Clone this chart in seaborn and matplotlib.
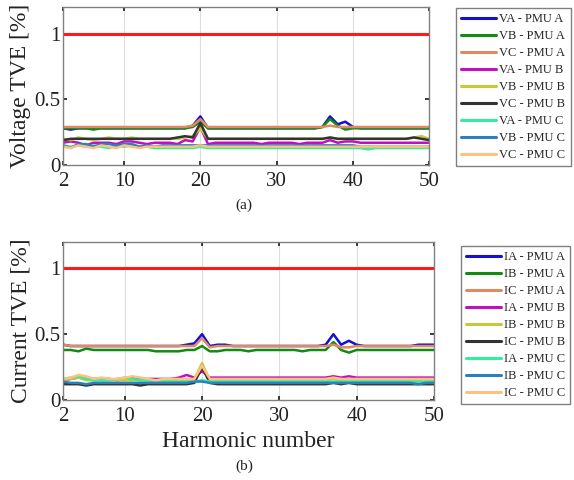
import numpy as np
import pandas as pd
import matplotlib
matplotlib.use("Agg")
import matplotlib.pyplot as plt
import seaborn as sns

harmonics = list(range(2, 51))

v_labels = ["VA - PMU A", "VB - PMU A", "VC - PMU A",
            "VA - PMU B", "VB - PMU B", "VC - PMU B",
            "VA - PMU C", "VB - PMU C", "VC - PMU C"]
i_labels = ["IA - PMU A", "IB - PMU A", "IC - PMU A",
            "IA - PMU B", "IB - PMU B", "IC - PMU B",
            "IA - PMU C", "IB - PMU C", "IC - PMU C"]

# Voltage TVE [%] for harmonics 2..50
va_a = [0.28,0.27,0.28,0.28,0.28,0.28,0.28,0.28,0.28,0.28,
        0.28,0.28,0.28,0.28,0.28,0.28,0.28,0.30,0.37,0.28,
        0.28,0.28,0.28,0.28,0.28,0.28,0.28,0.28,0.28,0.28,
        0.28,0.28,0.28,0.28,0.29,0.37,0.31,0.33,0.29,0.28,
        0.28,0.28,0.28,0.28,0.28,0.28,0.28,0.28,0.28]
vb_a = [0.28,0.28,0.28,0.28,0.27,0.28,0.28,0.28,0.28,0.28,
        0.28,0.28,0.28,0.28,0.28,0.28,0.28,0.29,0.33,0.28,
        0.28,0.28,0.28,0.28,0.28,0.28,0.28,0.28,0.28,0.28,
        0.28,0.28,0.28,0.28,0.29,0.35,0.30,0.27,0.28,0.28,
        0.28,0.28,0.28,0.28,0.28,0.28,0.28,0.28,0.28]
vc_a = [0.29,0.29,0.29,0.29,0.29,0.29,0.29,0.29,0.29,0.29,
        0.29,0.29,0.29,0.29,0.29,0.29,0.29,0.30,0.35,0.29,
        0.29,0.29,0.29,0.29,0.29,0.29,0.29,0.29,0.29,0.29,
        0.29,0.29,0.29,0.29,0.29,0.30,0.29,0.29,0.29,0.29,
        0.29,0.29,0.29,0.29,0.29,0.29,0.29,0.29,0.29]
va_b = [0.17,0.18,0.17,0.15,0.17,0.17,0.17,0.16,0.18,0.18,
        0.17,0.16,0.17,0.17,0.17,0.16,0.19,0.18,0.29,0.16,
        0.17,0.17,0.17,0.17,0.17,0.17,0.16,0.17,0.17,0.17,
        0.17,0.16,0.17,0.17,0.17,0.19,0.17,0.18,0.18,0.17,
        0.17,0.17,0.17,0.17,0.17,0.17,0.17,0.17,0.17]
vb_b = [0.20,0.19,0.21,0.20,0.19,0.20,0.21,0.20,0.20,0.21,
        0.20,0.20,0.20,0.20,0.20,0.20,0.21,0.22,0.28,0.20,
        0.20,0.20,0.20,0.20,0.20,0.20,0.20,0.20,0.20,0.20,
        0.20,0.20,0.20,0.20,0.20,0.21,0.20,0.20,0.20,0.20,
        0.20,0.20,0.20,0.20,0.20,0.20,0.21,0.22,0.20]
vc_b = [0.19,0.20,0.20,0.20,0.20,0.20,0.20,0.20,0.20,0.20,
        0.20,0.20,0.20,0.20,0.20,0.21,0.22,0.21,0.32,0.20,
        0.20,0.20,0.20,0.20,0.20,0.20,0.20,0.20,0.20,0.20,
        0.20,0.20,0.20,0.20,0.20,0.21,0.20,0.20,0.20,0.20,
        0.20,0.20,0.20,0.20,0.20,0.20,0.21,0.20,0.19]
va_c = [0.15,0.14,0.15,0.14,0.15,0.14,0.13,0.15,0.14,0.15,
        0.14,0.14,0.13,0.13,0.13,0.13,0.13,0.13,0.14,0.13,
        0.13,0.13,0.13,0.13,0.13,0.13,0.13,0.13,0.13,0.13,
        0.13,0.13,0.13,0.13,0.13,0.13,0.13,0.13,0.13,0.13,
        0.12,0.13,0.13,0.13,0.13,0.13,0.13,0.13,0.13]
vb_c = [0.15,0.13,0.16,0.16,0.14,0.16,0.16,0.15,0.16,0.16,
        0.14,0.15,0.14,0.15,0.15,0.15,0.15,0.15,0.15,0.15,
        0.15,0.15,0.15,0.15,0.15,0.15,0.15,0.15,0.15,0.15,
        0.15,0.15,0.15,0.15,0.15,0.15,0.15,0.15,0.15,0.14,
        0.14,0.14,0.14,0.14,0.14,0.14,0.14,0.14,0.14]
vc_c = [0.14,0.13,0.15,0.14,0.13,0.15,0.14,0.13,0.15,0.14,
        0.13,0.14,0.14,0.14,0.14,0.14,0.14,0.14,0.15,0.14,
        0.14,0.14,0.14,0.14,0.14,0.14,0.14,0.14,0.14,0.14,
        0.14,0.14,0.14,0.14,0.14,0.14,0.14,0.14,0.14,0.14,
        0.14,0.14,0.14,0.14,0.14,0.14,0.14,0.14,0.14]

# Current TVE [%] for harmonics 2..50
ia_a = [0.42,0.41,0.41,0.41,0.41,0.41,0.41,0.41,0.41,0.41,
        0.41,0.41,0.41,0.41,0.41,0.41,0.42,0.43,0.50,0.41,
        0.42,0.42,0.41,0.41,0.41,0.41,0.41,0.41,0.41,0.41,
        0.41,0.41,0.41,0.41,0.42,0.50,0.42,0.45,0.42,0.41,
        0.41,0.41,0.41,0.41,0.41,0.41,0.42,0.42,0.42]
ib_a = [0.38,0.38,0.37,0.39,0.38,0.38,0.38,0.38,0.38,0.38,
        0.38,0.38,0.37,0.37,0.37,0.37,0.38,0.38,0.41,0.37,
        0.37,0.38,0.38,0.38,0.37,0.38,0.38,0.38,0.38,0.38,
        0.38,0.37,0.38,0.38,0.38,0.44,0.38,0.36,0.38,0.38,
        0.38,0.38,0.38,0.38,0.38,0.38,0.38,0.38,0.38]
ic_a = [0.42,0.41,0.41,0.41,0.41,0.41,0.41,0.41,0.41,0.41,
        0.41,0.41,0.41,0.41,0.41,0.41,0.41,0.41,0.47,0.40,
        0.41,0.41,0.41,0.41,0.41,0.41,0.41,0.41,0.41,0.41,
        0.41,0.41,0.41,0.41,0.41,0.42,0.40,0.40,0.41,0.41,
        0.41,0.41,0.41,0.41,0.41,0.41,0.41,0.41,0.41]
ia_b = [0.15,0.16,0.17,0.16,0.16,0.16,0.16,0.15,0.16,0.17,
        0.16,0.16,0.16,0.16,0.16,0.17,0.19,0.17,0.22,0.17,
        0.17,0.17,0.17,0.17,0.17,0.17,0.17,0.17,0.17,0.17,
        0.17,0.17,0.17,0.17,0.17,0.18,0.17,0.18,0.17,0.17,
        0.17,0.17,0.17,0.17,0.17,0.17,0.17,0.17,0.17]
ib_b = [0.15,0.16,0.17,0.15,0.15,0.15,0.15,0.15,0.15,0.15,
        0.15,0.15,0.15,0.15,0.15,0.15,0.15,0.16,0.28,0.15,
        0.15,0.15,0.15,0.15,0.15,0.15,0.15,0.15,0.15,0.15,
        0.15,0.15,0.15,0.15,0.15,0.16,0.15,0.15,0.15,0.15,
        0.15,0.15,0.15,0.15,0.15,0.15,0.15,0.15,0.15]
ic_b = [0.12,0.12,0.12,0.11,0.12,0.12,0.12,0.12,0.12,0.12,
        0.11,0.12,0.12,0.12,0.12,0.12,0.12,0.13,0.25,0.13,
        0.12,0.12,0.12,0.12,0.12,0.12,0.12,0.12,0.12,0.12,
        0.12,0.12,0.12,0.12,0.12,0.13,0.12,0.13,0.12,0.12,
        0.12,0.12,0.12,0.12,0.12,0.12,0.12,0.12,0.12]
ia_c = [0.16,0.17,0.18,0.16,0.15,0.15,0.15,0.16,0.17,0.16,
        0.15,0.15,0.14,0.14,0.14,0.14,0.14,0.14,0.15,0.14,
        0.14,0.14,0.14,0.14,0.14,0.14,0.14,0.14,0.14,0.14,
        0.14,0.14,0.14,0.14,0.14,0.14,0.14,0.14,0.14,0.14,
        0.14,0.14,0.14,0.14,0.14,0.14,0.14,0.14,0.14]
ib_c = [0.14,0.13,0.13,0.12,0.13,0.13,0.13,0.13,0.13,0.13,
        0.13,0.13,0.13,0.13,0.13,0.13,0.13,0.14,0.14,0.13,
        0.13,0.13,0.13,0.13,0.13,0.13,0.13,0.13,0.13,0.13,
        0.13,0.13,0.13,0.13,0.13,0.13,0.13,0.13,0.13,0.13,
        0.13,0.13,0.13,0.13,0.13,0.13,0.12,0.13,0.13]
ic_c = [0.16,0.17,0.19,0.18,0.16,0.17,0.16,0.16,0.17,0.18,
        0.17,0.16,0.15,0.16,0.16,0.16,0.16,0.16,0.26,0.16,
        0.16,0.16,0.16,0.16,0.16,0.16,0.16,0.16,0.16,0.16,
        0.16,0.16,0.16,0.16,0.16,0.17,0.16,0.16,0.16,0.16,
        0.16,0.16,0.16,0.16,0.16,0.16,0.16,0.16,0.16]

tve_limit = 1.0
x_ticks = [2, 10, 20, 30, 40, 50]
y_ticks = [0, 0.5, 1]
y_ticklabels = ["0", "0.5", "1"]

colors = ["#1010d8", "#138a13", "#e08a5e", "#c010c0", "#c8c83a",
          "#333333", "#33ee99", "#2a7fc0", "#ffc080"]

voltage = [va_a, vb_a, vc_a, va_b, vb_b, vc_b, va_c, vb_c, vc_c]
current = [ia_a, ib_a, ic_a, ia_b, ib_b, ic_b, ia_c, ib_c, ic_c]


def long_df(series, labels):
    rows = []
    for lab, vals in zip(labels, series):
        for h, v in zip(harmonics, vals):
            rows.append({"h": h, "tve": v, "series": lab})
    return pd.DataFrame(rows)


sns.set_theme(style="white")
plt.rcParams["font.family"] = ["Liberation Serif", "DejaVu Serif"]

fig = plt.figure(figsize=(5.74, 4.8), dpi=100)
ax1 = fig.add_axes([0.1098, 0.656, 0.638, 0.329])
ax2 = fig.add_axes([0.1098, 0.1667, 0.646, 0.329])

panels = [(ax1, voltage, v_labels, "Voltage TVE [%]", 0.795, 0.983),
          (ax2, current, i_labels, "Current TVE [%]", 0.803, 0.4875)]

for ax, series, labels, ylab, lx, ly in panels:
    df = long_df(series, labels)
    ax.axhline(tve_limit, color="#ff1a1a", lw=2.2, zorder=1)
    sns.lineplot(data=df, x="h", y="tve", hue="series", hue_order=labels,
                 palette=dict(zip(labels, colors)), linewidth=1.8,
                 ax=ax, legend=True)
    ax.set_xlim(2, 50)
    ax.set_ylim(0, 1.2)
    ax.set_xticks(x_ticks)
    ax.set_yticks(y_ticks)
    ax.set_yticklabels(y_ticklabels)
    ax.tick_params(direction="in", length=3, labelsize=15, colors="#222222",
                   top=True, right=True, bottom=True, left=True)
    ax.tick_params(axis="x", pad=5)
    ax.tick_params(axis="y", pad=2)
    ax.xaxis.grid(True, color="#dddddd", lw=0.8)
    ax.yaxis.grid(False)
    for sp in ax.spines.values():
        sp.set_color("#808080")
        sp.set_linewidth(1.0)
    ax.set_ylabel(ylab, fontsize=17, labelpad=2, color="#222222")
    ax.set_xlabel("")
    h, l = ax.get_legend_handles_labels()
    ax.legend(h, l, loc="upper left", bbox_to_anchor=(lx, ly),
              bbox_transform=fig.transFigure, fontsize=9, frameon=True,
              fancybox=False, edgecolor="#808080", framealpha=1,
              handlelength=2.8, labelspacing=0.4, borderpad=0.4,
              handletextpad=0.25, borderaxespad=0)
    ax.get_legend().get_frame().set_linewidth(1.0)
    for line in ax.get_legend().get_lines():
        line.set_linewidth(2.2)

ax2.set_xlabel("Harmonic number", fontsize=17, labelpad=4, color="#222222")
fig.text(0.425, 0.573, "(a)", ha="center", va="center", fontsize=11, color="#222222")
fig.text(0.425, 0.029, "(b)", ha="center", va="center", fontsize=11, color="#222222")

fig.savefig("out.png", dpi=100, facecolor="white")
